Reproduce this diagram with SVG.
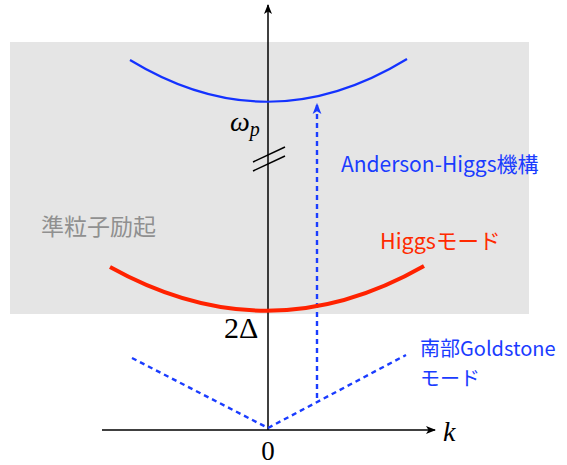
<svg xmlns="http://www.w3.org/2000/svg" width="567" height="465" viewBox="0 0 567 465">
<defs>
<marker id="ah" viewBox="0 0 10 10" refX="9" refY="5" markerWidth="10" markerHeight="10" markerUnits="userSpaceOnUse" orient="auto"><path d="M0,1 L10,5 L0,9 L2.5,5 Z" fill="#000"/></marker>
<marker id="ahb" viewBox="0 0 10 10" refX="9" refY="5" markerWidth="11" markerHeight="11" markerUnits="userSpaceOnUse" orient="auto"><path d="M0,1 L10,5 L0,9 L2.5,5 Z" fill="#1a3cff"/></marker>
<style>
.lab{font-family:"Noto Sans CJK JP","Noto Sans",sans-serif;}
.math{font-family:"Liberation Serif","DejaVu Serif",serif;fill:#000;}
.dash{fill:none;stroke:#1a3cff;stroke-width:2.4;stroke-dasharray:5,4;}
</style>
</defs>
<g id="background"><rect x="10" y="42" width="519" height="272" fill="#e5e5e5"/></g>
<g id="connectors">
<line x1="102" y1="430" x2="435" y2="430" stroke="#000" stroke-width="1.5" marker-end="url(#ah)"/>
<line x1="268" y1="430" x2="268" y2="5" stroke="#000" stroke-width="1.5" marker-end="url(#ah)"/>
<line x1="253" y1="162" x2="285" y2="147" stroke="#000" stroke-width="1.5"/>
<line x1="253" y1="171" x2="285" y2="156" stroke="#000" stroke-width="1.5"/>
<path class="dash" d="M132,358 L268,428 L406,355"/>
<line class="dash" x1="317" y1="398" x2="317" y2="104" marker-end="url(#ahb)"/>
</g>
<g id="plasmon"><path d="M130,60 Q268,144 407,59" fill="none" stroke="#1432ff" stroke-width="2.2"/></g>
<g id="higgs"><path d="M110,267 Q268,355 424,266" fill="none" stroke="#ff2200" stroke-width="4"/></g>
<g id="labels">
<text class="math" x="230" y="131" font-size="28" font-style="italic">ω<tspan font-size="20" dy="5">p</tspan></text>
<text class="math" x="224" y="338" font-size="30">2Δ</text>
<text class="math" x="268" y="460" font-size="27" text-anchor="middle">0</text>
<text class="math" x="443" y="441" font-size="28" font-style="italic">k</text>
<text class="lab" x="341" y="172" font-size="21" fill="#1a3cff">Anderson-Higgs機構</text>
<text class="lab" x="41" y="235" font-size="23" fill="#909090">準粒子励起</text>
<text class="lab" x="380" y="249" font-size="21.5" fill="#ff2a00">Higgsモード</text>
<text class="lab" x="420" y="356" font-size="20" fill="#1a3cff">南部Goldstone</text>
<text class="lab" x="420" y="386" font-size="20" fill="#1a3cff">モード</text>
</g>
</svg>
